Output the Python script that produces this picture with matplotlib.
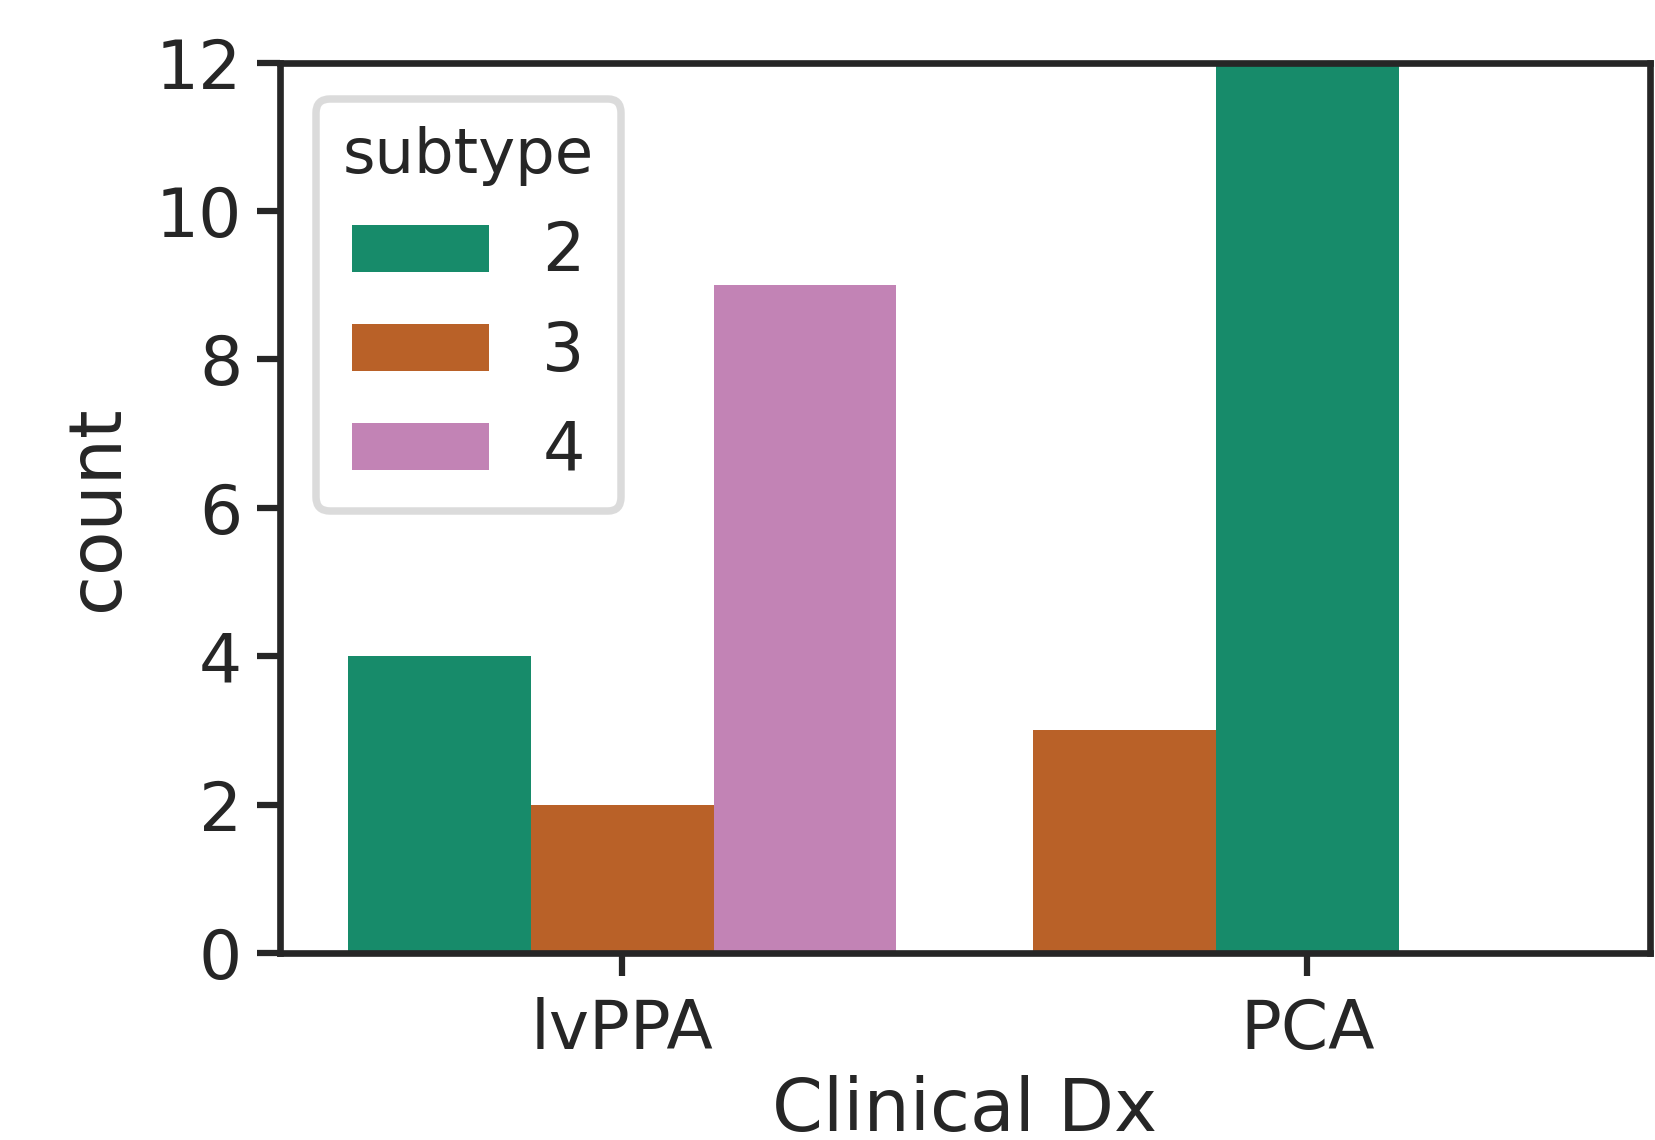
import numpy as np
import matplotlib
matplotlib.use('Agg')
import matplotlib.pyplot as plt
from matplotlib.patches import Patch

# counts per clinical diagnosis, listed in the order the bars sit within each group
categories = ['lvPPA', 'PCA']
subtypes = ['2', '3', '4']
lvppa_subtypes = ['2', '3', '4']
lvppa_counts = [4, 2, 9]
pca_subtypes = ['3', '2']
pca_counts = [3, 12]

colors = {'2': '#178b6a', '3': '#b96128', '4': '#c283b5'}
ink = '#262626'

plt.rcParams['font.family'] = 'DejaVu Sans'
plt.rcParams['text.color'] = ink
plt.rcParams['axes.labelcolor'] = ink
plt.rcParams['xtick.color'] = ink
plt.rcParams['ytick.color'] = ink

fig = plt.figure(figsize=(1655 / 300, 1140 / 300), dpi=300)
ax = fig.add_axes([0.169, 0.164, 0.828, 0.781])

width = 0.8 / 3
groups = [(lvppa_subtypes, lvppa_counts), (pca_subtypes, pca_counts)]
for i, (subs, counts) in enumerate(groups):
    for slot, (s, c) in enumerate(zip(subs, counts)):
        ax.bar(i + (slot - 1) * width, c, width=width, color=colors[s],
               linewidth=0)

ax.set_xlim(-0.5, 1.5)
ax.set_ylim(0, 12)
ax.set_xticks(range(len(categories)))
ax.set_xticklabels(categories)
ax.set_yticks(np.arange(0, 13, 2))
ax.tick_params(labelsize=16.3, length=5.5, width=1.5)
ax.tick_params(axis='y', pad=3.5)
ax.tick_params(axis='x', pad=5)
for sp in ax.spines.values():
    sp.set_linewidth(1.6)
    sp.set_color(ink)

ax.set_xlabel('Clinical Dx', fontsize=17.5, labelpad=3)
ax.set_ylabel('count', fontsize=17.5, labelpad=5.5)

handles = [Patch(facecolor=colors[s], edgecolor='none') for s in subtypes]
leg = ax.legend(handles, subtypes, title='subtype', loc='upper left',
                fontsize=16, title_fontsize=15, handlelength=2.05,
                handleheight=0.71, borderaxespad=0.55, handletextpad=0.8,
                borderpad=0.4, labelspacing=0.5, framealpha=0.8)
leg.get_frame().set_edgecolor('#d3d3d3')
leg.get_frame().set_linewidth(1.8)

fig.savefig('out.png', dpi=300)
